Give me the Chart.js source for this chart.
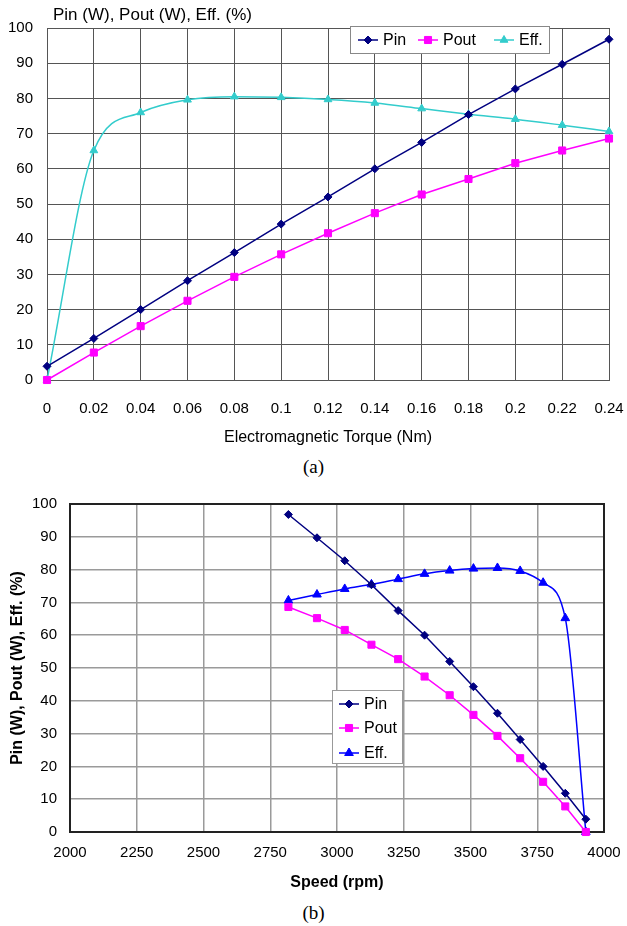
<!DOCTYPE html>
<html lang="en">
<head>
<meta charset="UTF-8">
<title>Pin, Pout, Eff. vs Torque and Speed</title>
<script src="https://cdn.jsdelivr.net/npm/chart.js"></script>
<style>
  body { margin: 0; background: #fff; width: 627px; height: 926px; position: relative; overflow: hidden; }
  canvas { position: absolute; left: 0; }
  #chartA { top: 0; }
  #chartB { top: 470px; }
  .caption {
    position: absolute; left: 0; width: 627px; text-align: center;
    font-family: 'Liberation Serif', 'Times New Roman', serif; font-size: 19px; line-height: 22px; color: #000;
  }
</style>
</head>
<body>
<canvas id="chartA" width="627" height="455"></canvas>
<div class="caption" style="top:456px">(a)</div>
<canvas id="chartB" width="627" height="425"></canvas>
<div class="caption" style="top:902px">(b)</div>

<script>
// values (same operating points in both plots)
const torqueNm = [0, 0.02, 0.04, 0.06, 0.08, 0.1, 0.12, 0.14, 0.16, 0.18, 0.2, 0.22, 0.24];
const speedRpm = [3932, 3855, 3772, 3686, 3601, 3511, 3422, 3328, 3229, 3129, 3029, 2925, 2818];
const pinW   = [3.9, 11.8, 20.0, 28.2, 36.2, 44.3, 52.0, 60.0, 67.5, 75.4, 82.7, 89.7, 96.8];
const poutW  = [0, 7.8, 15.3, 22.5, 29.3, 35.7, 41.7, 47.4, 52.7, 57.1, 61.6, 65.2, 68.6];
const effPct = [0, 65.2, 76.0, 79.6, 80.5, 80.3, 79.7, 78.7, 77.1, 75.5, 74.1, 72.4, 70.6];

// tick labels
const torqueTicks = [0, 0.02, 0.04, 0.06, 0.08, 0.1, 0.12, 0.14, 0.16, 0.18, 0.2, 0.22, 0.24];
const speedTicks = [2000, 2250, 2500, 2750, 3000, 3250, 3500, 3750, 4000];
const valueTicks = [0, 10, 20, 30, 40, 50, 60, 70, 80, 90, 100];

const seriesNames = ['Pin', 'Pout', 'Eff.'];
const seriesValues = [pinW, poutW, effPct];

Chart.defaults.font.family = "'Liberation Sans', Arial, sans-serif";
Chart.defaults.color = '#000';

function fixedTicks(list) {
  return function(scale) { scale.ticks = list.map(v => ({ value: v })); };
}

function drawMarker(ctx, style, x, y, r) {
  ctx.beginPath();
  if (style === 'rectRot') {
    ctx.moveTo(x, y - r); ctx.lineTo(x + r, y); ctx.lineTo(x, y + r); ctx.lineTo(x - r, y);
  } else if (style === 'rect') {
    const s = r * Math.SQRT1_2;
    ctx.rect(x - s, y - s, 2 * s, 2 * s);
  } else {
    let a = 0;
    for (let k = 0; k < 3; k++) {
      const px = x + Math.sin(a) * r, py = y - Math.cos(a) * r;
      k === 0 ? ctx.moveTo(px, py) : ctx.lineTo(px, py);
      a += 2 * Math.PI / 3;
    }
  }
  ctx.closePath();
  ctx.fill();
  ctx.stroke();
}

// legend box drawn inside the plot
const boxLegend = {
  id: 'boxLegend',
  afterDraw(chart, args, opts) {
    if (!opts.items) return;
    const ctx = chart.ctx;
    ctx.save();
    ctx.fillStyle = '#fff';
    ctx.strokeStyle = opts.borderColor;
    ctx.lineWidth = 1;
    ctx.fillRect(opts.left, opts.top, opts.width, opts.height);
    ctx.strokeRect(opts.left + 0.5, opts.top + 0.5, opts.width, opts.height);
    ctx.font = opts.font;
    ctx.textBaseline = 'middle';
    chart.data.datasets.forEach((ds, i) => {
      const it = opts.items[i];
      ctx.strokeStyle = ds.borderColor;
      ctx.fillStyle = ds.backgroundColor;
      ctx.lineWidth = ds.borderWidth;
      ctx.beginPath();
      ctx.moveTo(it.x, it.y);
      ctx.lineTo(it.x + opts.lineLen, it.y);
      ctx.stroke();
      ctx.lineWidth = 1;
      drawMarker(ctx, ds.pointStyle, it.x + opts.lineLen / 2, it.y, ds.pointRadius);
      ctx.fillStyle = '#000';
      ctx.fillText(ds.label, it.x + opts.lineLen + 5, it.y + 1);
    });
    ctx.restore();
  }
};

// frame around plot area and loose title text
const plotExtras = {
  id: 'plotExtras',
  beforeDatasetsDraw(chart, args, opts) {
    if (!opts.frameWidth) return;
    const { left, top, right, bottom } = chart.chartArea;
    const ctx = chart.ctx;
    ctx.save();
    ctx.strokeStyle = opts.frameColor;
    ctx.lineWidth = opts.frameWidth;
    ctx.strokeRect(left, top, right - left, bottom - top);
    ctx.restore();
  },
  afterDraw(chart, args, opts) {
    if (!opts.text) return;
    const ctx = chart.ctx;
    ctx.save();
    ctx.font = opts.font;
    ctx.fillStyle = '#000';
    ctx.textBaseline = 'middle';
    ctx.fillText(opts.text, chart.chartArea.left + opts.dx, chart.chartArea.top - opts.dy);
    ctx.restore();
  }
};

function makeSets(xs, colors, sizes, sortByX) {
  const styles = ['rectRot', 'rect', 'triangle'];
  return seriesNames.map((name, i) => {
    let pts = xs.map((x, j) => ({ x: x, y: seriesValues[i][j] }));
    if (sortByX) pts = pts.slice().sort((a, b) => a.x - b.x);
    return {
      label: name,
      data: pts,
      borderColor: colors[i],
      backgroundColor: colors[i],
      borderWidth: 1.5,
      pointStyle: styles[i],
      pointRadius: sizes[i],
      pointBorderWidth: 1,
      cubicInterpolationMode: i === 2 ? 'monotone' : 'default',
      tension: 0,
      clip: false
    };
  });
}

// x axis: fixed height, and let layout padding alone decide the side margins
function xFit(h) {
  return function(s) { s.height = h; s.paddingLeft = 0; s.paddingRight = 0; };
}

// (a) versus electromagnetic torque
new Chart(document.getElementById('chartA'), {
  type: 'line',
  data: { datasets: makeSets(torqueNm, ['#000080', '#ff00ff', '#33cccc'], [4, 5, 4.5], false) },
  plugins: [boxLegend, plotExtras],
  options: {
    responsive: false,
    animation: false,
    layout: { padding: { top: 28, right: 18, left: 0, bottom: 0 } },
    plugins: {
      legend: { display: false },
      tooltip: { enabled: false },
      boxLegend: {
        left: 350, top: 26, width: 199, height: 27, borderColor: '#888',
        font: "16px 'Liberation Sans', Arial, sans-serif", lineLen: 20,
        items: [{ x: 358, y: 40 }, { x: 418, y: 40 }, { x: 494, y: 40 }]
      },
      plotExtras: { text: 'Pin (W), Pout (W), Eff. (%)', font: "17px 'Liberation Sans', Arial, sans-serif", dx: 6, dy: 13 }
    },
    scales: {
      x: {
        type: 'linear', min: 0, max: 0.24,
        afterBuildTicks: fixedTicks(torqueTicks),
        afterFit: xFit(75),
        grid: { color: '#555', lineWidth: 1, drawTicks: false },
        border: { color: '#555', width: 1 },
        ticks: { padding: 20, font: { size: 15 }, maxRotation: 0, autoSkip: false, callback: v => String(v) },
        title: { display: true, text: 'Electromagnetic Torque (Nm)', font: { size: 16 }, padding: { top: 0, bottom: 8 } }
      },
      y: {
        min: 0, max: 100,
        afterBuildTicks: fixedTicks(valueTicks),
        afterFit(s) { s.width = 47; },
        grid: { color: '#555', lineWidth: 1, drawTicks: false },
        border: { color: '#555', width: 1 },
        ticks: { padding: 14, font: { size: 15 }, callback: v => String(v) }
      }
    }
  }
});

// (b) versus speed
new Chart(document.getElementById('chartB'), {
  type: 'line',
  data: { datasets: makeSets(speedRpm, ['#000080', '#ff00ff', '#0000ff'], [4, 5, 5], true) },
  plugins: [boxLegend, plotExtras],
  options: {
    responsive: false,
    animation: false,
    layout: { padding: { top: 34, right: 23, left: 0, bottom: 0 } },
    plugins: {
      legend: { display: false },
      tooltip: { enabled: false },
      boxLegend: {
        left: 332, top: 220, width: 70, height: 73, borderColor: '#999',
        font: "16px 'Liberation Sans', Arial, sans-serif", lineLen: 20,
        items: [{ x: 339, y: 234 }, { x: 339, y: 258 }, { x: 339, y: 283 }]
      },
      plotExtras: { frameColor: '#222', frameWidth: 2 }
    },
    scales: {
      x: {
        type: 'linear', min: 2000, max: 4000,
        afterBuildTicks: fixedTicks(speedTicks),
        afterFit: xFit(63),
        grid: { color: '#9a9a9a', lineWidth: 1.5, drawTicks: false },
        border: { color: '#222', width: 2 },
        ticks: { padding: 12, font: { size: 15 }, maxRotation: 0, autoSkip: false, callback: v => String(v) },
        title: { display: true, text: 'Speed (rpm)', font: { size: 16, weight: 'bold' }, padding: { top: 0, bottom: 3 } }
      },
      y: {
        min: 0, max: 100,
        afterBuildTicks: fixedTicks(valueTicks),
        afterFit(s) { s.width = 70; },
        grid: { color: '#9a9a9a', lineWidth: 1.5, drawTicks: false },
        border: { color: '#222', width: 2 },
        ticks: { padding: 13, font: { size: 15 }, callback: v => String(v) },
        title: { display: true, text: 'Pin (W), Pout (W), Eff. (%)', font: { size: 16, weight: 'bold' }, padding: { top: 8, bottom: 0 } }
      }
    }
  }
});
</script>
</body>
</html>
